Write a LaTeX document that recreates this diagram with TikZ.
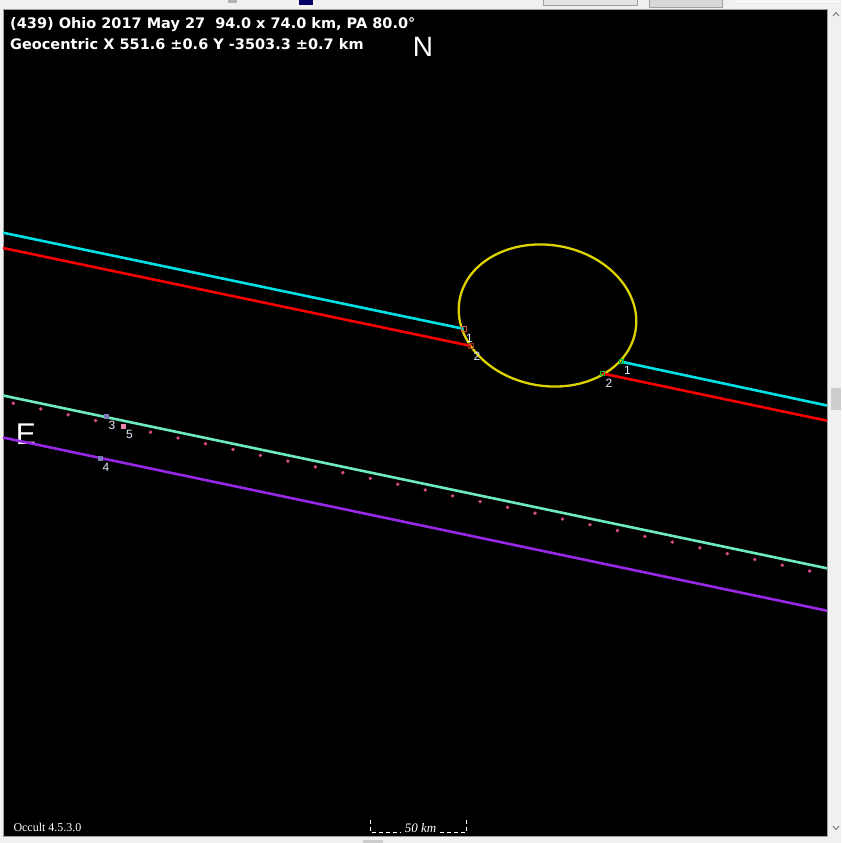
\documentclass[tikz,border=0pt]{standalone}
\usepackage{fontspec}
\setmainfont{Liberation Sans}
\newfontfamily\serifface{Liberation Serif}
\newfontfamily\headface{DejaVu Sans}

\definecolor{winbg}{RGB}{240,240,240}
\definecolor{winline}{RGB}{160,160,160}
\definecolor{thumbgray}{RGB}{205,205,205}
\definecolor{chordcyan}{RGB}{0,225,230}
\definecolor{chordred}{RGB}{245,0,0}
\definecolor{limitgreen}{RGB}{110,235,190}
\definecolor{limitpurple}{RGB}{150,40,230}
\definecolor{pathdot}{RGB}{215,75,140}
\definecolor{asteroid}{RGB}{220,210,0}
\definecolor{labelwhite}{RGB}{225,235,255}
\definecolor{disapp}{RGB}{215,80,50}
\definecolor{reapp}{RGB}{20,190,40}

\tikzset{
  chord/.style={line width=2.6pt},
  headtext/.style={white, font=\headface\fontsize{14.5}{14.5}\selectfont\bfseries, anchor=base west, inner sep=0pt},
  obslabel/.style={labelwhite, font=\fontsize{12}{12}\selectfont, inner sep=0pt},
  obsmark/.style={line width=1pt, minimum size=5pt, inner sep=0pt, draw}
}

\begin{document}
\begin{tikzpicture}[x=1pt, y=-1pt]
\useasboundingbox (0,0) rectangle (841,843);

% Window background and toolbar remnants
\fill[winbg] (0,0) rectangle (841,843);
\fill[gray!60] (228,0) rectangle (237,3);
\fill[blue!40!black] (299,0) rectangle (313,5);
\filldraw[fill=winbg!95!black, draw=winline] (543,-1) rectangle (637,5);
\filldraw[fill=thumbgray!80!white, draw=winline] (649,-1) rectangle (722,7);
\draw[white] (735,1) -- (841,1);

% Plot area
\filldraw[fill=black, draw=winline, line width=1pt] (3,10) rectangle (827,836.5);

% Scroll bars
\fill[thumbgray] (831,388) rectangle (841,410);
\fill[thumbgray] (363,840) rectangle (383,843);
\draw[gray, line width=1pt] (833,16) -- (836,12.5) -- (839,16);
\draw[gray, line width=1pt] (833,826) -- (836,829.5) -- (839,826);

% Header text
\node[headtext] (title) at (10,28.5)
  {(439) Ohio 2017 May 27\ \ 94.0 x 74.0 km, PA 80.0°};
\node[headtext] (geo) at (10,49.5)
  {Geocentric X 551.6 ±0.6 Y -3503.3 ±0.7 km};

% Orientation letters
\node[white, font=\fontsize{28}{28}\selectfont, inner sep=0pt] (north) at (423,46.5) {N};
\node[white, font=\fontsize{30}{30}\selectfont, inner sep=0pt] (east) at (26,434.5) {E};

% Asteroid profile
\draw[asteroid, line width=2.3pt] (547.5,315.5) ellipse [x radius=89.3, y radius=70.4, rotate=-10];

% Chord end points
\coordinate (cyanW) at (3,232.7);
\coordinate (cyanD) at (463.5,328.8);
\coordinate (cyanR) at (621.7,361.8);
\coordinate (cyanE) at (827,405.5);
\coordinate (redW) at (3,248);
\coordinate (redD) at (471.2,346);
\coordinate (redR) at (602.5,373.5);
\coordinate (redE) at (827,420.7);

% Observed chords
\draw[chord, chordcyan] (cyanW) -- (cyanD);
\draw[chord, chordcyan] (cyanR) -- (cyanE);
\draw[chord, chordred] (redW) -- (redD);
\draw[chord, chordred] (redR) -- (redE);

% Event markers and labels
\node[obsmark, disapp] (dis1) at (cyanD) {};
\node[obsmark, disapp!70!black] (dis2) at (redD) {};
\node[obsmark, reapp, minimum size=4pt] (rea1) at (cyanR) {};
\node[obsmark, reapp, minimum size=4pt] (rea2) at (redR) {};
\node[obslabel] (lab1a) at (469.5,338.5) {1};
\node[obslabel] (lab2a) at (477,356) {2};
\node[obslabel] (lab1b) at (627.5,370.5) {1};
\node[obslabel] (lab2b) at (609,383) {2};

% Miss lines
\coordinate (greenW) at (3,395.5);
\coordinate (greenE) at (827,568.3);
\coordinate (purpleW) at (3,437.5);
\coordinate (purpleE) at (827,610.7);
\draw[chord, limitgreen] (greenW) -- (greenE);
\draw[chord, limitpurple] (purpleW) -- (purpleE);

% Path dots
\foreach \i in {0,...,29}
  \fill[pathdot] (13.3+27.46*\i, 403.3+5.783*\i) circle (1.9pt);

% Miss markers and labels
\node[obsmark, draw=none, fill=gray!70!blue!80!white] (miss3) at (106.7,416.5) {};
\node[obsmark, draw=none, fill=gray!70!blue!80!white] (miss4) at (100,458) {};
\node[obsmark, draw=none, fill={rgb,255:red,235;green,130;blue,175}] (miss5) at (123.3,426.3) {};
\node[obslabel] (lab3) at (112,425.5) {3};
\node[obslabel] (lab4) at (106,467) {4};
\node[obslabel] (lab5) at (129.5,434.5) {5};

% Footer
\node[white, font=\serifface\fontsize{12}{12}\selectfont, anchor=base west, inner sep=0pt] (ver) at (13.3,831.3) {Occult 4.5.3.0};
\draw[white, dash pattern=on 4pt off 3pt, line width=0.8pt] (370.7,819.5) -- (370.7,832.5) -- (401,832.5);
\draw[white, dash pattern=on 4pt off 3pt, line width=0.8pt] (466,819.5) -- (466,832.5) -- (439,832.5);
\node[white, font=\serifface\itshape\fontsize{13}{13}\selectfont, anchor=base, inner sep=0pt] (scale) at (420.5,832.5) {50 km};

\end{tikzpicture}
\end{document}
